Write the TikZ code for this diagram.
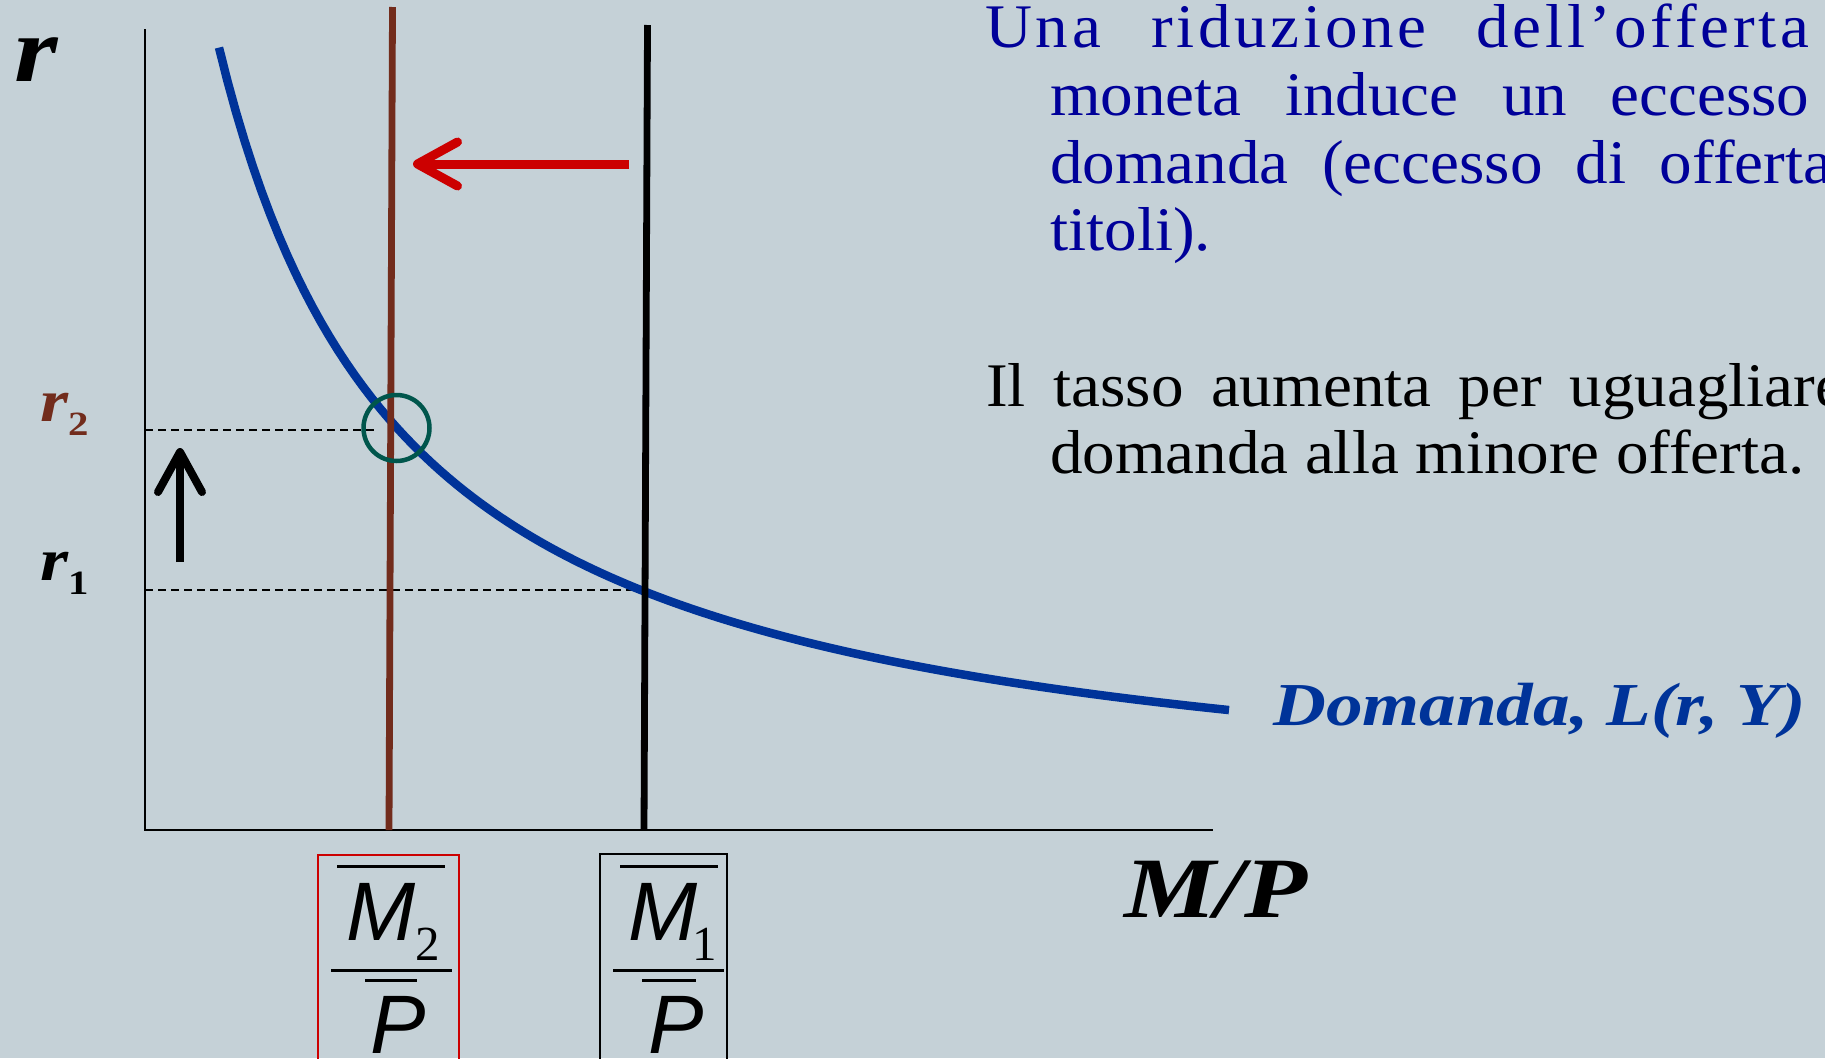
\documentclass[tikz,border=0pt]{standalone}
\usepackage{fontspec}
\setmainfont{Liberation Serif}
\newfontfamily\bodyfont[FakeStretch=1.05]{Liberation Serif}
\newfontfamily\labfont[FakeStretch=1.2]{Liberation Serif}
\newfontfamily\fracfont{Liberation Sans}
\usetikzlibrary{arrows.meta}
\definecolor{slidebg}{RGB}{197,209,215}
\definecolor{demblue}{RGB}{0,51,153}
\definecolor{txtblue}{RGB}{0,0,153}
\definecolor{supbrown}{RGB}{114,44,28}
\definecolor{movered}{RGB}{204,0,0}
\definecolor{eqgreen}{RGB}{0,86,76}

\begin{document}
\begin{tikzpicture}[x=1pt, y=-1pt,
  axisline/.style={line width=2.5pt},
  guide/.style={line width=2pt, dash pattern=on 8pt off 5pt},
  supply/.style={line width=6.8pt},
  movearr/.style={line width=9pt, -{Straight Barb[length=40pt,width=44pt,round]}},
  txt/.style={inner sep=0pt, anchor=base west, font=\bodyfont\fontsize{62}{68}\selectfont},
  lab/.style={inner sep=0pt, anchor=base west, font=\labfont\bfseries\itshape\fontsize{#1}{#1}\selectfont},
  valbox/.style={draw, line width=2pt, minimum height=216pt, anchor=north west, inner sep=0pt},
  fracsym/.style={inner sep=0pt, anchor=base, font=\fracfont\itshape\fontsize{83}{83}\selectfont},
  subnum/.style={inner sep=0pt, anchor=base west, font=\fontsize{49}{49}\selectfont},
  fracbar/.style={line width=3pt}
]
\fill[slidebg] (0,0) rectangle (1825,1058);
\useasboundingbox (0,0) rectangle (1825,1058);

% axes
\coordinate (O) at (145,830);
\coordinate (ytop) at (145,29);
\coordinate (xend) at (1213,830);
\draw[axisline] (ytop) -- (O) -- (xend);

% guide lines
\coordinate (r2a) at (145,430);
\coordinate (r2b) at (378,430);
\coordinate (r1a) at (145,590);
\coordinate (r1b) at (644,590);
\draw[guide] (r2a) -- (r2b);
\draw[guide] (r1a) -- (r1b);

% demand
\draw[demblue, line width=8.5pt] plot[domain=219:1229, samples=120] (\x,{835-1500/((\x-28.5)/100)});

% supply
\coordinate (m2top) at (392.5,7);
\coordinate (m2bot) at (389,830);
\coordinate (m1top) at (647.5,25);
\coordinate (m1bot) at (644,830);
\draw[supply, supbrown] (m2top) -- (m2bot);
\draw[supply] (m1top) -- (m1bot);

\node[draw=eqgreen, line width=4.5pt, circle, minimum size=66pt, inner sep=0pt] (eq) at (396.5,428) {};

% shifts
\coordinate (mvfrom) at (629,164);
\coordinate (mvto) at (413,164);
\draw[movearr, movered] (mvfrom) -- (mvto);
\coordinate (upfrom) at (180,562);
\coordinate (upto) at (180,448);
\draw[movearr, line width=8pt] (upfrom) -- (upto);

% labels
\node[lab=93] (rlab) at (14,81) {r};
\node[lab=60, text=supbrown] (rtwo) at (40,421) {r\raisebox{-14pt}{\upshape\fontsize{34}{34}\selectfont 2}};
\node[lab=60] (rone) at (40,580) {r\raisebox{-14pt}{\upshape\fontsize{34}{34}\selectfont 1}};
\node[lab=86] (mp) at (1124,917) {M/P};
\node[lab=61, text=demblue] (dem) at (1273,725) {Domanda, L(r, Y)};

% text
\node[txt, text=txtblue] (l1) at (985,47) {\addfontfeature{LetterSpace=6}\makebox[824pt][s]{Una riduzione dell’offerta}};
\node[txt, text=txtblue] (l2) at (1050,115) {\makebox[759pt][s]{moneta induce un eccesso}};
\node[txt, text=txtblue] (l3) at (1050,183) {\makebox[782pt][s]{domanda (eccesso di offerta}};
\node[txt, text=txtblue] (l4) at (1050,250) {titoli).};
\node[txt] (l5) at (986,406) {\makebox[858pt][s]{Il tasso aumenta per uguagliare}};
\node[txt] (l6) at (1050,473) {domanda alla minore offerta.};

% M2/P
\node[valbox, draw=movered, minimum width=141pt] (m2box) at (317,854) {};
\draw[fracbar] (337,866) -- (445,866);
\node[fracsym] (m2) at (381,940) {M};
\node[subnum] (m2sub) at (415,960) {2};
\draw[fracbar] (331,970) -- (452,970);
\draw[fracbar] (365,980) -- (417,980);
\node[fracsym] (p2) at (398,1053) {P};

% M1/P
\node[valbox, minimum width=127pt] (m1box) at (599,853) {};
\draw[fracbar] (620,866) -- (718,866);
\node[fracsym] (m1) at (663,940) {M};
\node[subnum] (m1sub) at (692,960) {1};
\draw[fracbar] (613,970) -- (724,970);
\draw[fracbar] (642,980) -- (696,980);
\node[fracsym] (p1) at (676,1053) {P};
\end{tikzpicture}
\end{document}
